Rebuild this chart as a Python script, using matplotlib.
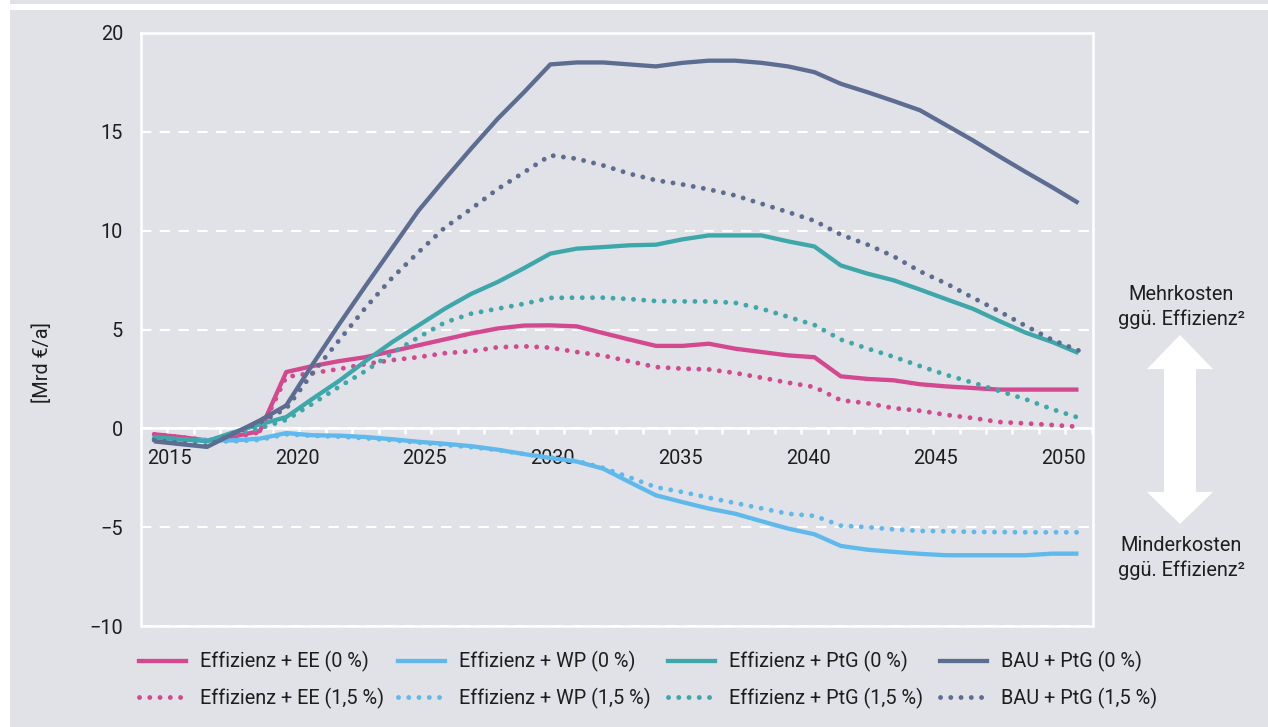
import numpy as np
import matplotlib
matplotlib.use("Agg")
import matplotlib.pyplot as plt
from matplotlib.lines import Line2D
from matplotlib.patches import Polygon, Rectangle

plt.rcParams['font.family'] = ['Roboto', 'DejaVu Sans']

# ---------------- data ----------------
years = list(range(2015, 2051))

ee_0 = [-0.30, -0.44, -0.61, -0.41, -0.14, 2.85, 3.15, 3.40, 3.60, 3.90,
        4.20, 4.50, 4.80, 5.05, 5.20, 5.21, 5.16, 4.82, 4.49, 4.17,
        4.17, 4.28, 4.03, 3.86, 3.69, 3.60, 2.63, 2.50, 2.43, 2.23,
        2.12, 2.04, 1.96, 1.96, 1.96, 1.96]
ee_15 = [-0.30, -0.45, -0.60, -0.45, -0.20, 2.60, 2.80, 3.00, 3.25, 3.45,
         3.60, 3.80, 3.90, 4.10, 4.15, 4.08, 3.86, 3.68, 3.39, 3.10,
         3.02, 2.98, 2.80, 2.56, 2.31, 2.09, 1.42, 1.27, 1.02, 0.89,
         0.68, 0.52, 0.32, 0.25, 0.17, 0.08]
wp_0 = [-0.50, -0.58, -0.61, -0.61, -0.52, -0.24, -0.35, -0.37, -0.44, -0.55,
        -0.68, -0.78, -0.90, -1.08, -1.30, -1.50, -1.68, -2.04, -2.72, -3.39,
        -3.73, -4.06, -4.32, -4.70, -5.07, -5.36, -5.95, -6.14, -6.25, -6.35,
        -6.42, -6.42, -6.42, -6.42, -6.34, -6.34]
wp_15 = [-0.55, -0.62, -0.65, -0.66, -0.58, -0.30, -0.38, -0.42, -0.50, -0.60,
         -0.72, -0.84, -0.95, -1.10, -1.30, -1.48, -1.65, -2.00, -2.48, -2.98,
         -3.22, -3.51, -3.78, -4.05, -4.32, -4.43, -4.92, -5.00, -5.11, -5.19,
         -5.21, -5.24, -5.25, -5.26, -5.26, -5.26]
ptg_0 = [-0.44, -0.55, -0.65, -0.20, 0.20, 0.57, 1.50, 2.40, 3.40, 4.35,
         5.20, 6.05, 6.80, 7.40, 8.10, 8.84, 9.09, 9.17, 9.26, 9.29,
         9.56, 9.76, 9.76, 9.76, 9.46, 9.20, 8.24, 7.83, 7.49, 7.02,
         6.53, 6.05, 5.43, 4.84, 4.37, 3.81]
ptg_15 = [-0.50, -0.60, -0.65, -0.30, 0.00, 0.43, 1.25, 2.10, 2.90, 3.80,
          4.60, 5.35, 5.80, 6.05, 6.30, 6.60, 6.61, 6.61, 6.54, 6.44,
          6.42, 6.42, 6.35, 6.05, 5.64, 5.23, 4.49, 4.04, 3.62, 3.15,
          2.70, 2.31, 1.89, 1.47, 0.97, 0.54]
bau_0 = [-0.66, -0.80, -0.94, -0.27, 0.40, 1.16, 3.24, 5.26, 7.20, 9.10,
         11.00, 12.60, 14.15, 15.65, 17.00, 18.41, 18.51, 18.51, 18.41, 18.31,
         18.49, 18.60, 18.60, 18.49, 18.31, 18.02, 17.43, 17.01, 16.56, 16.09,
         15.33, 14.57, 13.76, 12.97, 12.20, 11.40]
bau_15 = [-0.60, -0.75, -0.90, -0.25, 0.30, 1.00, 2.80, 4.45, 6.10, 7.60,
          8.90, 10.15, 11.10, 12.10, 12.95, 13.81, 13.64, 13.30, 12.88, 12.55,
          12.34, 12.09, 11.78, 11.36, 10.94, 10.50, 9.80, 9.30, 8.70, 7.94,
          7.32, 6.61, 5.92, 5.18, 4.48, 3.94]

label_years = [2015, 2020, 2025, 2030, 2035, 2040, 2045, 2050]
y_ticks = [-10, -5, 0, 5, 10, 15, 20]

series_names = ["Effizienz + EE", "Effizienz + WP", "Effizienz + PtG", "BAU + PtG"]
series_0 = [ee_0, wp_0, ptg_0, bau_0]
series_15 = [ee_15, wp_15, ptg_15, bau_15]

# ---------------- style ----------------
BG = "#e1e2e7"
TXT = "#1e1e1e"
colors = ["#d4488f", "#5fb9ec", "#3ea7aa", "#5c6d91"]
W, H = 1268, 727
FS = 14.3
LW_SOLID = 3.1
LW_DOT = 3.5
DOT = (0, (0.01, 2.1))

fig = plt.figure(figsize=(W / 100, H / 100), dpi=100, facecolor=BG)
fig.patches.append(Rectangle((0, 0), 10 / W, 1, transform=fig.transFigure,
                             facecolor="white", edgecolor="none", zorder=0))
fig.patches.append(Rectangle((10 / W, 1 - 10 / H), 1, 6 / H, transform=fig.transFigure,
                             facecolor="white", edgecolor="none", zorder=0))

ax = fig.add_axes([141 / W, 1 - 626 / H, (1093 - 141) / W, (626 - 33) / H])
ax.set_facecolor("none")
ax.set_xlim(2014.5, 2050.55)
ax.set_ylim(-10, 20)

# grid
ax.set_yticks(y_ticks)
ax.yaxis.grid(True, color="white", linewidth=1.5, linestyle=(0, (5, 4)), zorder=1)
ax.set_axisbelow(True)

for sp in ax.spines.values():
    sp.set_color("white")
    sp.set_linewidth(1.8)
ax.spines["bottom"].set_position(("data", 0))
ax.axhline(-10, color="white", lw=1.8, clip_on=False, zorder=1)

# lines
for name, v0, v15, c in zip(series_names, series_0, series_15, colors):
    ax.plot(years, v0, color=c, lw=LW_SOLID, solid_capstyle="butt",
            solid_joinstyle="round", zorder=3)
    ax.plot(years, v15, color=c, lw=LW_DOT, linestyle=DOT,
            dash_capstyle="round", zorder=3)

# ticks
ax.set_xticks(np.arange(2014.5, 2051, 1), minor=True)
tick_pos = [2015.57 + (y - 2015) * 0.9677 for y in label_years]
ax.set_xticks(tick_pos)
ax.set_xticklabels([str(y) for y in label_years])
ax.tick_params(axis="x", which="major", length=0, pad=15, labelsize=FS, labelcolor=TXT)
ax.tick_params(axis="x", which="minor", length=4.5, width=1.8, color="white", direction="out")
ax.tick_params(axis="y", length=0, pad=13, labelsize=FS, labelcolor=TXT)

fig.text(42 / W, 1 - 363 / H, "[Mrd €/a]", rotation=90, ha="center", va="center",
         fontsize=FS, color=TXT)

# legend: four columns
col_x = [139, 398, 668, 940]
for name, c, xp in zip(series_names, colors, col_x):
    handles = [Line2D([], [], color=c, lw=LW_SOLID),
               Line2D([], [], color=c, lw=LW_DOT, linestyle=DOT, dash_capstyle="round")]
    labels = [f"{name} (0 %)", f"{name} (1,5 %)"]
    fig.legend(handles, labels, loc="center left", bbox_to_anchor=(xp / W, 1 - 680 / H),
               frameon=False, fontsize=FS, handlelength=2.35, handletextpad=0.7,
               labelspacing=0.78, borderpad=0, borderaxespad=0, labelcolor=TXT)

# right annotation
fig.text(1181 / W, 1 - 307 / H, "Mehrkosten\nggü. Effizienz²", ha="center", va="center",
         fontsize=FS, color=TXT, linespacing=1.3)
fig.text(1181 / W, 1 - 558 / H, "Minderkosten\nggü. Effizienz²", ha="center", va="center",
         fontsize=FS, color=TXT, linespacing=1.3)
cx, hw, sw = 1180, 33, 16
pts = [(cx, 335), (cx + hw, 369), (cx + sw, 369), (cx + sw, 492), (cx + hw, 492),
       (cx, 524), (cx - hw, 492), (cx - sw, 492), (cx - sw, 369), (cx - hw, 369)]
fig.patches.append(Polygon([(px / W, 1 - py / H) for px, py in pts], closed=True,
                           transform=fig.transFigure, facecolor="white", edgecolor="none"))

fig.savefig("out.png", dpi=100, facecolor=BG)
